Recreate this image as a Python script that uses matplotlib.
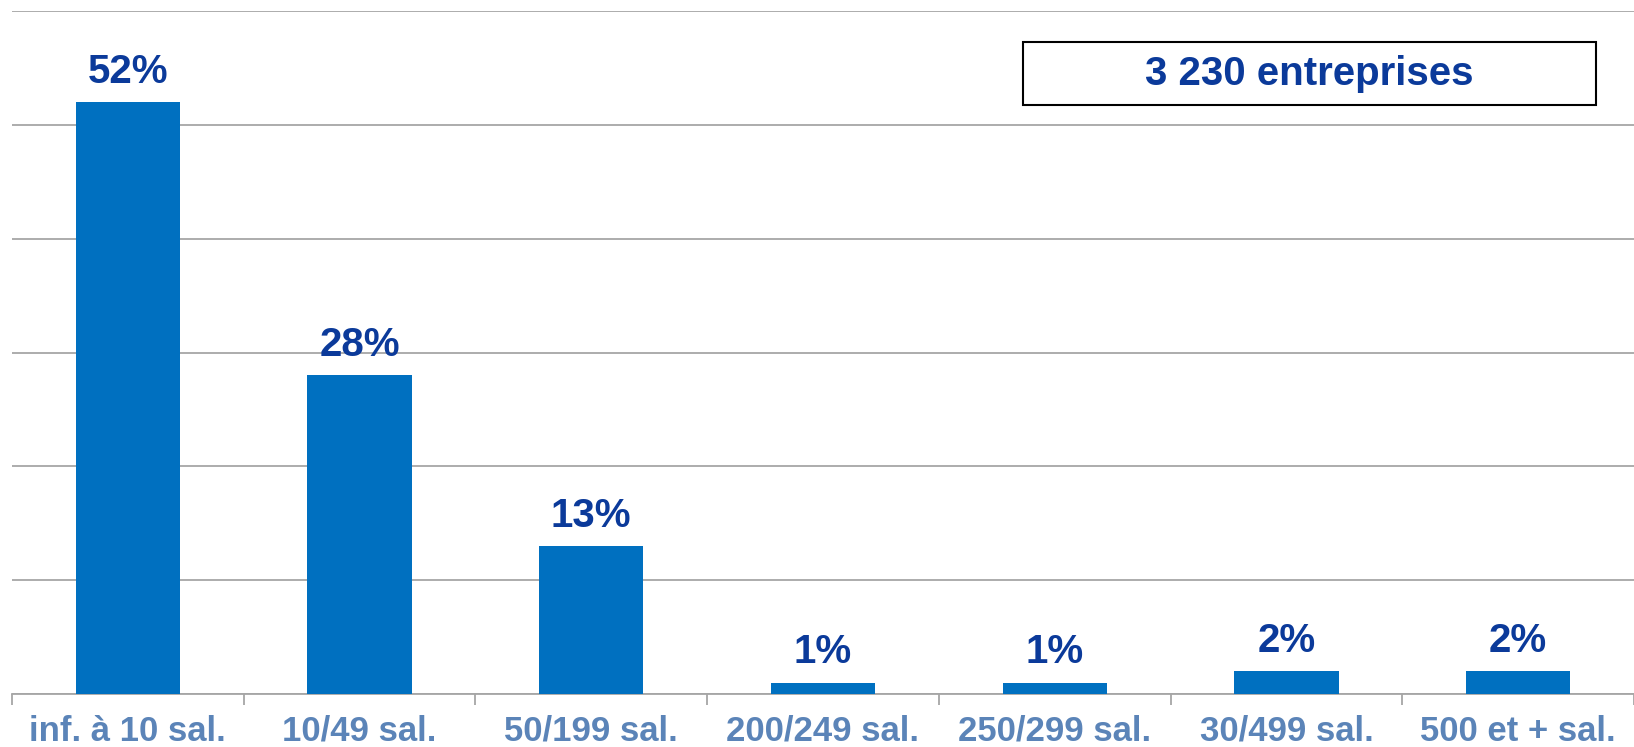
import numpy as np
import matplotlib.pyplot as plt
from matplotlib.patches import Rectangle

categories = ["inf. à 10 sal.", "10/49 sal.", "50/199 sal.", "200/249 sal.",
              "250/299 sal.", "30/499 sal.", "500 et + sal."]
values = [52, 28, 13, 1, 1, 2, 2]
total_label = "3 230 entreprises"

plt.rcParams['font.family'] = ['Liberation Sans', 'DejaVu Sans']

fig = plt.figure(figsize=(16.34, 7.47), dpi=100, facecolor="w")
ax = fig.add_axes([12/1634, 53/747, 1622/1634, 683/747])

X = np.arange(len(categories))
ax.bar(X, values, width=0.45, color="#0070C0", zorder=3)

for x, v in zip(X, values):
    ax.annotate("%d%%" % v, (x, v), xytext=(0, 14), textcoords="offset points",
                ha="center", va="baseline", fontsize=29, fontweight="bold",
                color="#0B3A9A")

ax.set_xlim(-0.5, len(categories) - 0.5)
ax.set_ylim(0, 60)
ax.set_yticks(np.arange(0, 61, 10))
ax.yaxis.grid(True, color="#A6A6A6", lw=1.3)
ax.set_axisbelow(True)
ax.tick_params(axis="y", left=False, labelleft=False)

for s in ["left", "right", "top"]:
    ax.spines[s].set_visible(False)
ax.spines["bottom"].set_color("#A6A6A6")
ax.spines["bottom"].set_linewidth(1.3)

ax.set_xticks(np.arange(len(categories) + 1) - 0.5, minor=True)
ax.set_xticks(X)
ax.set_xticklabels(categories, fontsize=25, fontweight="bold", color="#5B84B8")
ax.tick_params(axis="x", which="major", length=0, pad=15)
ax.tick_params(axis="x", which="minor", length=8, width=1.3, color="#A6A6A6")

box = Rectangle((1023/1634, (747-105)/747), (1596-1023)/1634, 63/747,
                transform=fig.transFigure, fill=False, edgecolor="black", lw=1.5)
fig.patches.append(box)
fig.text((1023+1596)/2/1634, (747-74)/747, total_label, ha="center", va="center",
         fontsize=29, fontweight="bold", color="#0B3A9A")

plt.savefig("out.png", dpi=100)
